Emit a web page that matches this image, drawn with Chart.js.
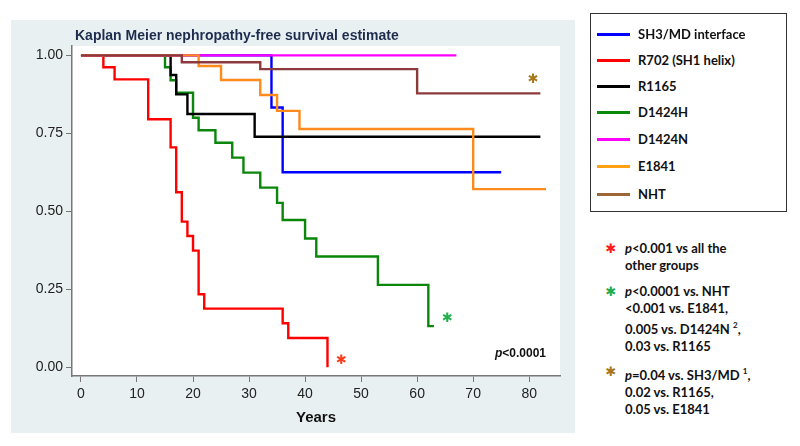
<!DOCTYPE html>
<html>
<head>
<meta charset="utf-8">
<script src="https://cdn.jsdelivr.net/npm/chart.js@4/dist/chart.umd.min.js"></script>
<style>
  html, body { margin:0; padding:0; background:#fff; }
  body { width:800px; height:446px; position:relative; overflow:hidden; font-family:"Liberation Sans", Arial, sans-serif; }
  #wrap { position:absolute; left:11px; top:20px; width:564px; height:413px; background:#e9f0f2; }
  #title { position:absolute; left:75px; top:27px; font:bold 14px "Liberation Sans", Arial, sans-serif; color:#1d2c4e; white-space:nowrap; }
  #legend { position:absolute; left:590px; top:13px; width:197px; height:199px; border:1px solid #333; box-sizing:border-box; }
  .li { position:absolute; left:0; height:20px; width:190px; }
  .li .sw { position:absolute; left:6px; top:8px; width:33px; height:3px; }
  .li .tx { position:absolute; left:47px; top:1px; font:bold 13px Lato, "Liberation Sans", sans-serif; color:#111; white-space:nowrap; }
  .note { position:absolute; left:625px; font:bold 13px Lato, "Liberation Sans", sans-serif; color:#111; line-height:17px; white-space:nowrap; }
  .star { position:absolute; left:603px; width:16px; text-align:center; font:13px "DejaVu Sans", sans-serif; line-height:17px; }
  sup { font-size:8px; vertical-align:6px; }
</style>
</head>
<body>
<div id="wrap"><canvas id="c"></canvas></div>
<div id="title">Kaplan Meier nephropathy-free survival estimate</div>
<div id="legend"></div>

<div class="star" style="top:240px;color:#ff1a1a;">✱</div>
<div class="note" style="top:240px;"><i>p</i>&lt;0.001 vs all the<br>other groups</div>
<div class="star" style="top:283px;color:#1fae4a;">✱</div>
<div class="note" style="top:283px;"><i>p</i>&lt;0.0001 vs. NHT<br>&lt;0.001 vs. E1841,<br>0.005 vs. D1424N <sup>2</sup>,<br>0.03 vs. R1165</div>
<div class="star" style="top:363px;color:#a8771c;">✱</div>
<div class="note" style="top:363px;"><i>p</i>=0.04 vs. SH3/MD <sup>1</sup>,<br>0.02 vs. R1165,<br>0.05 vs. E1841</div>

<script>
// ---- data (years, survival probability) ----
const seriesNames = ["SH3/MD interface", "R702 (SH1 helix)", "R1165", "D1424H", "D1424N", "E1841", "NHT"];
const sh3Years   = [0, 34, 36, 75];
const sh3Surv    = [1, 0.833, 0.625, 0.625];
const r702Years  = [0, 4, 6, 12, 16, 17, 18, 19, 20, 21, 22, 36, 37, 44];
const r702Surv   = [1, 0.962, 0.923, 0.795, 0.705, 0.561, 0.467, 0.421, 0.374, 0.234, 0.188, 0.141, 0.094, 0];
const r1165Years = [0, 16, 17, 19, 31, 82];
const r1165Surv  = [1, 0.937, 0.875, 0.812, 0.739, 0.739];
const d1424hYears = [0, 15, 16, 17, 20, 21, 24, 27, 29, 32, 35, 36, 40, 42, 53, 62, 63];
const d1424hSurv  = [1, 0.962, 0.92, 0.88, 0.80, 0.76, 0.72, 0.672, 0.624, 0.576, 0.527, 0.472, 0.413, 0.355, 0.264, 0.132, 0.132];
const d1424nYears = [0, 67];
const d1424nSurv  = [1, 1];
const e1841Years = [0, 21, 25, 32, 35, 39, 70, 83];
const e1841Surv  = [1, 0.966, 0.921, 0.873, 0.822, 0.764, 0.571, 0.571];
const nhtYears   = [0, 18, 32, 60, 82];
const nhtSurv    = [1, 0.978, 0.956, 0.878, 0.878];
const xTickValues = [0, 10, 20, 30, 40, 50, 60, 70, 80];
const yTickValues = [0, 0.25, 0.5, 0.75, 1];

const lineColors   = ["#0000ff", "#ff0000", "#000000", "#0a860a", "#ff00ff", "#ff8a1c", "#8c3a3c"];
const legendColors = ["#0000ff", "#ff0000", "#000000", "#0a8a0a", "#ff00ff", "#ffa015", "#9c6636"];
const drawOrder    = [5, 3, 4, 6, 2, 1, 0]; // lower = on top

const pairs = (xs, ys) => xs.map((x, i) => ({x: x, y: ys[i]}));
const allData = [
  pairs(sh3Years, sh3Surv), pairs(r702Years, r702Surv), pairs(r1165Years, r1165Surv),
  pairs(d1424hYears, d1424hSurv), pairs(d1424nYears, d1424nSurv), pairs(e1841Years, e1841Surv),
  pairs(nhtYears, nhtSurv)
];

// legend (HTML)
const leg = document.getElementById('legend');
const legY = [11, 37, 63, 89, 116, 143, 171];
seriesNames.forEach((n, i) => {
  const d = document.createElement('div');
  d.className = 'li'; d.style.top = legY[i] + 'px';
  d.innerHTML = '<div class="sw" style="background:' + legendColors[i] + '"></div><div class="tx">' + n + '</div>';
  leg.appendChild(d);
});

const bgPlugin = {
  id: 'bg',
  beforeDraw(chart) {
    const {ctx, chartArea: a} = chart;
    ctx.save(); ctx.fillStyle = '#ffffff';
    ctx.fillRect(a.left, a.top, a.right - a.left, a.bottom - a.top);
    ctx.restore();
  },
  afterDraw(chart) {
    const {ctx, chartArea: a, scales: {x, y}} = chart;
    ctx.save();
    ctx.font = '13px "DejaVu Sans"';
    ctx.textAlign = 'center'; ctx.textBaseline = 'middle';
    const stars = [[46.5, 0.02, '#ff3b1a'], [65.4, 0.157, '#22b14c'], [80.7, 0.921, '#a8771c']];
    stars.forEach(s => { ctx.fillStyle = s[2]; ctx.fillText('✱', x.getPixelForValue(s[0]), y.getPixelForValue(s[1])); });
    ctx.fillStyle = '#111'; ctx.textBaseline = 'middle'; ctx.textAlign = 'left';
    ctx.font = 'bold 12px "Liberation Sans"';
    const rest = '<0.0001';
    const wr = ctx.measureText(rest).width;
    ctx.font = 'italic bold 12px "Liberation Sans"';
    const wp = ctx.measureText('p').width;
    const xr = a.right - 14, yy = a.bottom - 22;
    ctx.fillText('p', xr - wr - wp, yy);
    ctx.font = 'bold 12px "Liberation Sans"';
    ctx.fillText(rest, xr - wr, yy);
    ctx.restore();
  }
};

new Chart(document.getElementById('c'), {
  type: 'line',
  data: {
    datasets: allData.map((d, i) => ({
      label: seriesNames[i], data: d, borderColor: lineColors[i], backgroundColor: lineColors[i],
      borderWidth: 2.4, stepped: 'before', pointRadius: 0, fill: false, order: drawOrder[i]
    }))
  },
  options: {
    responsive: true, maintainAspectRatio: false, animation: false, devicePixelRatio: 1,
    layout: { padding: { top: 26, right: 15, left: 0, bottom: 0 } },
    plugins: { legend: { display: false }, tooltip: { enabled: false }, title: { display: false } },
    scales: {
      x: {
        type: 'linear', min: -1.6, max: 85.5,
        afterBuildTicks: s => { s.ticks = xTickValues.map(v => ({value: v})); },
        afterFit: s => { s.height = 57; },
        grid: { drawOnChartArea: false, drawTicks: true, tickLength: 6, color: '#777' },
        border: { display: true, color: '#777', width: 1.5 },
        ticks: { color: '#222', font: { family: 'Liberation Sans', size: 14 }, padding: 4, callback: v => String(v) },
        title: { display: true, text: 'Years', color: '#111', font: { family: 'Liberation Sans', size: 15, weight: 'bold' }, padding: { top: 0, bottom: 6 } }
      },
      y: {
        type: 'linear', min: -0.028, max: 1.03,
        afterBuildTicks: s => { s.ticks = yTickValues.map(v => ({value: v})); },
        afterFit: s => { s.width = 61; },
        grid: { drawOnChartArea: false, drawTicks: true, tickLength: 6, color: '#777' },
        border: { display: true, color: '#777', width: 1.5 },
        ticks: { color: '#222', font: { family: 'Liberation Sans', size: 14 }, padding: 3, callback: v => Number(v).toFixed(2) }
      }
    }
  },
  plugins: [bgPlugin]
});
</script>
</body>
</html>
